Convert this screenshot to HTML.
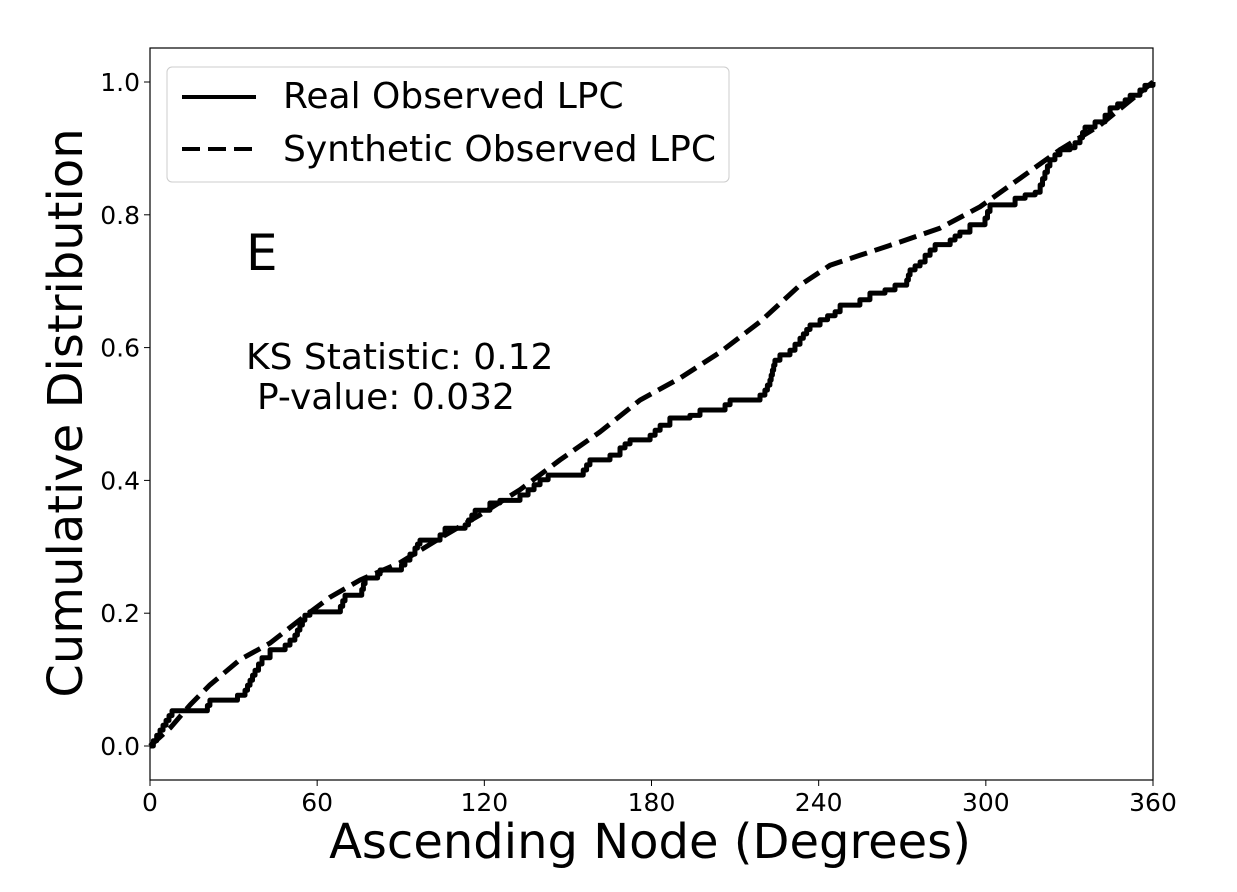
<!DOCTYPE html>
<html><head><meta charset="utf-8"><style>
body{margin:0;background:#fff}
svg{display:block;font-family:"DejaVu Sans","Liberation Sans",sans-serif}
</style></head><body>
<svg id="chart" width="1237" height="892">
<rect x="0" y="0" width="1237" height="892" fill="#fff"/>
<g id="plot"></g>
<rect x="150" y="48" width="1003" height="732" fill="none" stroke="#000" stroke-width="1.2"/>
<g id="xticks"></g>
<g id="yticks"></g>
<text x="650" y="858" font-size="48" text-anchor="middle">Ascending Node (Degrees)</text>
<text transform="translate(82,413) rotate(-90)" font-size="48" text-anchor="middle">Cumulative Distribution</text>
<text x="246" y="270" font-size="50">E</text>
<text x="246" y="369" font-size="36">KS Statistic: 0.12</text>
<text x="257" y="409" font-size="36">P-value: 0.032</text>
<g>
<rect x="167" y="67" width="562" height="115" rx="5" fill="#fff" fill-opacity="0.8" stroke="#ccc" stroke-width="1"/>
<line x1="182" y1="97" x2="256" y2="97" stroke="#000" stroke-width="4"/>
<text x="283" y="108" font-size="36">Real Observed LPC</text>
<line x1="182" y1="149" x2="256" y2="149" stroke="#000" stroke-width="4" stroke-dasharray="18,8"/>
<text x="283" y="161" font-size="36">Synthetic Observed LPC</text>
</g>
</svg>
<script>
const realX=[0,3.6,7.9,19.7,21.5,28.7,34.1,37.7,40.2,43.1,48.5,52,55.6,57.4,67.5,70,75.4,77.2,80.8,82.6,89,91.5,95.1,96.9,104.1,105.9,113.1,116.7,122,125.6,132.8,135.7,140,142.9,154.3,157.9,165.1,168.7,172.3,179.5,183.1,186.6,193.8,197.4,206.4,208.2,217.2,220.7,222.5,224.3,226.1,229.7,233.3,236.9,240.5,245.9,247.7,254.8,258.4,263.8,267.4,271,272.8,276.4,278.2,281.8,287.2,290.7,294.3,299.7,301.5,306.9,310.5,314.1,317.7,319.5,321.2,323,326.6,330.2,333.8,335.6,339.2,342.8,344.6,350,351.8,355.3,357.1,360];
const realY=[0,.024,.053,.053,.069,.069,.084,.114,.133,.145,.152,.167,.197,.202,.202,.227,.227,.253,.253,.265,.265,.28,.298,.31,.318,.328,.333,.355,.366,.37,.378,.386,.401,.408,.408,.431,.438,.449,.461,.468,.483,.494,.498,.506,.514,.521,.521,.536,.551,.581,.589,.596,.614,.634,.642,.654,.664,.672,.682,.687,.694,.694,.717,.729,.739,.755,.762,.774,.785,.795,.815,.815,.825,.83,.834,.845,.864,.883,.898,.901,.916,.932,.94,.95,.961,.973,.98,.988,.995,1];
const synX=[0,7.2,14.4,21.5,32.3,43.1,53.8,64.6,75.4,89.7,104.1,118.4,132.8,147.2,161.5,175.9,190.2,204.6,219,233.3,244.1,254.8,269.2,283.6,297.9,312.3,326.6,341,360];
const synY=[0,.027,.062,.092,.13,.155,.19,.224,.25,.276,.313,.348,.386,.431,.473,.521,.554,.593,.639,.694,.724,.739,.759,.78,.812,.855,.898,.935,1];
const xTicks=[0,60,120,180,240,300,360];
const yTicks=[0,0.2,0.4,0.6,0.8,1.0];
const NS='http://www.w3.org/2000/svg';
const sx=v=>150+v*1003/360;
const sy=v=>746-v*664;
const plot=document.getElementById('plot');
function line(pts,name,dash){
  const p=document.createElementNS(NS,'polyline');
  p.setAttribute('points',pts.join(' '));
  p.setAttribute('fill','none');p.setAttribute('stroke','#000');p.setAttribute('stroke-width','5');
  p.setAttribute('stroke-linejoin','round');
  if(dash)p.setAttribute('stroke-dasharray','18,8');
  
  
  plot.appendChild(p);
}
line(synX.map((x,i)=>sx(x)+','+sy(synY[i])),'synthetic-series',true);
const rp=[];
realX.forEach((x,i)=>{
  if(i===0){rp.push(sx(x)+','+sy(realY[i]));return;}
  const x0=realX[i-1],y0=realY[i-1],x1=x,y1=realY[i];
  const n=Math.max(1,Math.round((y1-y0)/0.008));
  for(let k=1;k<=n;k++){
    const xa=x0+(x1-x0)*k/n, yb=y0+(y1-y0)*(k-1)/n, ya=y0+(y1-y0)*k/n;
    rp.push(sx(xa)+','+sy(yb));rp.push(sx(xa)+','+sy(ya));
  }
});
line(rp,'real-series',false);
const xg=document.getElementById('xticks');
xTicks.forEach(t=>{
  const l=document.createElementNS(NS,'line');
  l.setAttribute('x1',sx(t));l.setAttribute('x2',sx(t));l.setAttribute('y1',780);l.setAttribute('y2',786);l.setAttribute('stroke','#000');
  
  
  xg.appendChild(l);
  const s=document.createElementNS(NS,'text');
  s.setAttribute('x',sx(t));s.setAttribute('y',811);s.setAttribute('font-size','25');s.setAttribute('text-anchor','middle');
  s.textContent=t;
  
  
  xg.appendChild(s);
});
const yg=document.getElementById('yticks');
yTicks.forEach(t=>{
  const l=document.createElementNS(NS,'line');
  l.setAttribute('x1',144);l.setAttribute('x2',150);l.setAttribute('y1',sy(t));l.setAttribute('y2',sy(t));l.setAttribute('stroke','#000');
  
  
  yg.appendChild(l);
  const s=document.createElementNS(NS,'text');
  s.setAttribute('x',140);s.setAttribute('y',sy(t)+9);s.setAttribute('font-size','25');s.setAttribute('text-anchor','end');
  s.textContent=t.toFixed(1);
  
  
  yg.appendChild(s);
});
</script>
</body></html>
